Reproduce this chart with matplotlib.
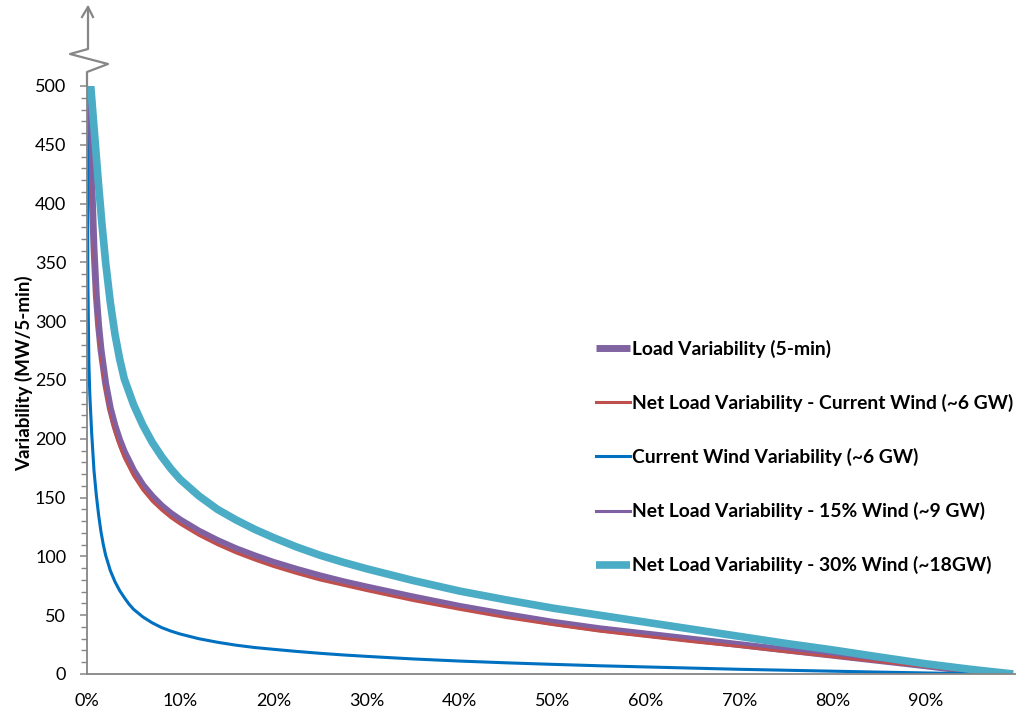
import matplotlib
matplotlib.use("Agg")
import matplotlib.pyplot as plt
from matplotlib.lines import Line2D
from matplotlib.ticker import MultipleLocator, FuncFormatter

plt.rcParams['font.family'] = ['Lato', 'DejaVu Sans']

# percentile of 5-min intervals (%) and variability (MW/5-min) for each series
load_x = [0.1, 0.3, 0.5, 0.75, 1, 1.25, 1.5, 2, 2.5, 3, 3.5, 4, 5, 6, 7, 8, 9, 10,
          12, 14, 16, 18, 20, 22.5, 25, 27.5, 30, 35, 40, 45, 50, 55, 60, 65, 70,
          75, 80, 85, 90, 95, 97]
load_y = [500, 460, 420, 362, 322, 296, 276, 247, 226, 211, 199, 189, 173, 160.5,
          151, 143, 136.5, 131, 121.5, 113.5, 106.5, 100.5, 95, 89, 83.5, 78.5, 74,
          65.5, 57.5, 50.5, 44, 38.5, 34, 29.5, 25, 20.5, 16, 11.5, 7, 2.2, 0]

net_cur_x = load_x
net_cur_y = [500, 455, 412, 354, 315, 289, 269, 241, 221, 206, 194, 184, 168.5,
             156.5, 147, 139.5, 133, 127.5, 118, 110, 103, 97, 91.5, 85.5, 80, 75.5,
             71, 62.5, 55, 48, 42, 36.5, 32, 27.5, 23.5, 19, 14.8, 10.5, 6.3, 1.8, 0]

wind_x = [0, 0.05, 0.1, 0.2, 0.3, 0.5, 0.75, 1, 1.25, 1.5, 1.75, 2, 2.5, 3, 3.5, 4,
          4.5, 5, 6, 7, 8, 9, 10, 12, 14, 16, 18, 20, 22.5, 25, 27.5, 30, 35, 40,
          45, 50, 55, 60, 65, 70, 75, 80, 85, 90, 95, 98]
wind_y = [500, 420, 330, 265, 238, 205, 173, 152, 135, 121, 110, 101, 88, 78.5, 71,
          65, 59.5, 55, 48.5, 43.5, 39.5, 36.5, 34, 30, 27, 24.5, 22.5, 21, 19.2,
          17.6, 16.2, 15, 12.8, 11, 9.5, 8.2, 7, 6, 5, 4, 3.2, 2.4, 1.6, 0.9, 0.3, 0]

net15_x = load_x
net15_y = [500, 461, 421, 363, 323, 297, 277, 248, 227, 212, 200, 190, 174, 161.5,
           152, 144, 137.5, 132, 122.5, 114.5, 107.5, 101.5, 96, 90, 84.5, 79.5, 75,
           66.5, 58.5, 51.5, 45, 39.5, 35, 30.5, 26, 21.5, 17, 12.2, 7.5, 2.6, 0]

net30_x = [0.4, 0.8, 1.2, 1.6, 2, 2.5, 3, 3.5, 4, 5, 6, 7, 8, 9, 10, 12, 14, 16, 18,
           20, 22.5, 25, 27.5, 30, 35, 40, 45, 50, 55, 60, 65, 70, 75, 80, 85, 90,
           95, 99.4]
net30_y = [500, 460, 420, 383, 350, 316, 289, 268, 251, 229, 211.5, 197, 185, 174.5,
           165.5, 151.5, 140, 131, 123, 116, 108, 101, 95, 89.5, 79.5, 70.5, 63, 56,
           50, 44, 38, 32, 26, 20.5, 14.5, 8.7, 3.8, 0]

labels = ["Load Variability (5-min)",
          "Net Load Variability - Current Wind (~6 GW)",
          "Current Wind Variability (~6 GW)",
          "Net Load Variability - 15% Wind (~9 GW)",
          "Net Load Variability - 30% Wind (~18GW)"]

W, H = 1016, 715
fig = plt.figure(figsize=(W / 100, H / 100), dpi=100)
ax = fig.add_axes([87 / W, (H - 674) / H, (W - 87) / W, (674 - 86) / H])

ax.plot(load_x, load_y, color='#8064A2', lw=5.0, label=labels[0], solid_capstyle='butt')
ax.plot(net_cur_x, net_cur_y, color='#C0504D', lw=2.2, label=labels[1])
ax.plot(wind_x, wind_y, color='#0070C0', lw=2.2, label=labels[2])
ax.plot(net15_x, net15_y, color='#7F60A3', lw=2.2, label=labels[3])
ax.plot(net30_x, net30_y, color='#4BACC6', lw=5.5, label=labels[4], solid_capstyle='butt')

ax.set_xlim(0, 99.7)
ax.set_ylim(0, 500)
ax.xaxis.set_major_locator(MultipleLocator(10))
ax.xaxis.set_major_formatter(FuncFormatter(lambda v, p: f"{v:.0f}%" if v < 95 else ""))
ax.yaxis.set_major_locator(MultipleLocator(50))
ax.yaxis.set_minor_locator(MultipleLocator(10))

for s in ['top', 'right']:
    ax.spines[s].set_visible(False)
for s in ['left', 'bottom']:
    ax.spines[s].set_color('#868686')
    ax.spines[s].set_linewidth(1.3)

ax.tick_params(axis='x', length=0, pad=14, labelsize=13)
ax.tick_params(axis='y', which='major', length=5, width=1.1, color='#868686',
               pad=10, labelsize=13)
ax.tick_params(axis='y', which='minor', length=4, width=1.0, color='#868686')

ax.set_ylabel("Variability (MW/5-min)", fontsize=13.5, fontweight='bold')
ax.yaxis.set_label_coords(-0.058, 0.512)

# axis break and arrow above the 500 tick
def px(x, y):
    return x / W, 1 - y / H

brk = [(87, 86), (87, 72), (108, 64), (70, 54), (88, 49), (88, 7)]
fig.add_artist(Line2D([px(*p)[0] for p in brk], [px(*p)[1] for p in brk],
                      transform=fig.transFigure, color='#868686', lw=1.6))
head = [(82, 17), (88, 7), (93, 17)]
fig.add_artist(Line2D([px(*p)[0] for p in head], [px(*p)[1] for p in head],
                      transform=fig.transFigure, color='#868686', lw=1.6))

leg = ax.legend(loc='upper left', bbox_to_anchor=(596 / W, 1 - 340 / H),
                bbox_transform=fig.transFigure, frameon=False, borderpad=0,
                borderaxespad=0, handlelength=1.75, handletextpad=0.1,
                labelspacing=1.87, prop={'size': 13.85, 'weight': 'bold'})

fig.savefig("out.png", dpi=100)
